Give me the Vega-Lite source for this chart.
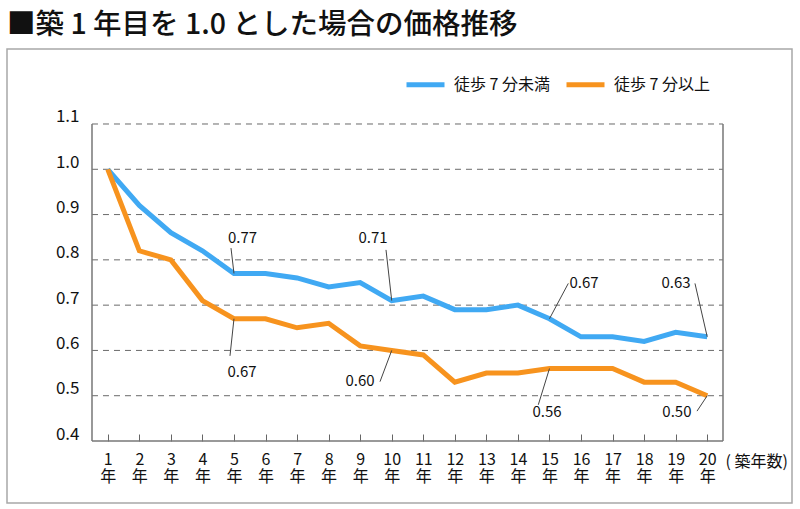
{
  "$schema": "https://vega.github.io/schema/vega-lite/v6.json",
  "autosize": "none",
  "width": 785,
  "height": 454,
  "padding": {"left": 7, "top": 49, "right": 8, "bottom": 6},
  "background": "white",
  "config": {
    "view": {"stroke": "#a8a8a8", "strokeWidth": 1.5},
    "font": "Noto Sans CJK JP"
  },
  "title": {
    "text": "■築 1 年目を 1.0 とした場合の価格推移",
    "anchor": "start",
    "frame": "group",
    "font": "Noto Sans CJK JP",
    "fontSize": 28.5,
    "fontWeight": 500,
    "color": "#111111",
    "baseline": "bottom",
    "offset": 11,
    "dy": 30
  },
  "datasets": {
    "series": [
      {"year": 1, "value": 1.0, "s": "徒歩 7 分未満"},
      {"year": 2, "value": 0.92, "s": "徒歩 7 分未満"},
      {"year": 3, "value": 0.86, "s": "徒歩 7 分未満"},
      {"year": 4, "value": 0.82, "s": "徒歩 7 分未満"},
      {"year": 5, "value": 0.77, "s": "徒歩 7 分未満"},
      {"year": 6, "value": 0.77, "s": "徒歩 7 分未満"},
      {"year": 7, "value": 0.76, "s": "徒歩 7 分未満"},
      {"year": 8, "value": 0.74, "s": "徒歩 7 分未満"},
      {"year": 9, "value": 0.75, "s": "徒歩 7 分未満"},
      {"year": 10, "value": 0.71, "s": "徒歩 7 分未満"},
      {"year": 11, "value": 0.72, "s": "徒歩 7 分未満"},
      {"year": 12, "value": 0.69, "s": "徒歩 7 分未満"},
      {"year": 13, "value": 0.69, "s": "徒歩 7 分未満"},
      {"year": 14, "value": 0.70, "s": "徒歩 7 分未満"},
      {"year": 15, "value": 0.67, "s": "徒歩 7 分未満"},
      {"year": 16, "value": 0.63, "s": "徒歩 7 分未満"},
      {"year": 17, "value": 0.63, "s": "徒歩 7 分未満"},
      {"year": 18, "value": 0.62, "s": "徒歩 7 分未満"},
      {"year": 19, "value": 0.64, "s": "徒歩 7 分未満"},
      {"year": 20, "value": 0.63, "s": "徒歩 7 分未満"},
      {"year": 1, "value": 1.0, "s": "徒歩 7 分以上"},
      {"year": 2, "value": 0.82, "s": "徒歩 7 分以上"},
      {"year": 3, "value": 0.80, "s": "徒歩 7 分以上"},
      {"year": 4, "value": 0.71, "s": "徒歩 7 分以上"},
      {"year": 5, "value": 0.67, "s": "徒歩 7 分以上"},
      {"year": 6, "value": 0.67, "s": "徒歩 7 分以上"},
      {"year": 7, "value": 0.65, "s": "徒歩 7 分以上"},
      {"year": 8, "value": 0.66, "s": "徒歩 7 分以上"},
      {"year": 9, "value": 0.61, "s": "徒歩 7 分以上"},
      {"year": 10, "value": 0.60, "s": "徒歩 7 分以上"},
      {"year": 11, "value": 0.59, "s": "徒歩 7 分以上"},
      {"year": 12, "value": 0.53, "s": "徒歩 7 分以上"},
      {"year": 13, "value": 0.55, "s": "徒歩 7 分以上"},
      {"year": 14, "value": 0.55, "s": "徒歩 7 分以上"},
      {"year": 15, "value": 0.56, "s": "徒歩 7 分以上"},
      {"year": 16, "value": 0.56, "s": "徒歩 7 分以上"},
      {"year": 17, "value": 0.56, "s": "徒歩 7 分以上"},
      {"year": 18, "value": 0.53, "s": "徒歩 7 分以上"},
      {"year": 19, "value": 0.53, "s": "徒歩 7 分以上"},
      {"year": 20, "value": 0.50, "s": "徒歩 7 分以上"}
    ],
    "grid": [
      {"v": 0.5}, {"v": 0.6}, {"v": 0.7}, {"v": 0.8}, {"v": 0.9}, {"v": 1.0}, {"v": 1.1}
    ],
    "notes": [
      {"year": 5, "value": 0.77, "lx": 4.906, "ly": 0.826, "tx": 5.27, "ty": 0.849, "label": "0.77"},
      {"year": 5, "value": 0.67, "lx": 4.874, "ly": 0.588, "tx": 5.254, "ty": 0.552, "label": "0.67"},
      {"year": 10, "value": 0.71, "lx": 9.819, "ly": 0.822, "tx": 9.406, "ty": 0.848, "label": "0.71"},
      {"year": 10, "value": 0.60, "lx": 9.628, "ly": 0.531, "tx": 8.994, "ty": 0.5325, "label": "0.60"},
      {"year": 15, "value": 0.67, "lx": 15.597, "ly": 0.748, "tx": 16.094, "ty": 0.749, "label": "0.67"},
      {"year": 15, "value": 0.56, "lx": 14.646, "ly": 0.48, "tx": 14.922, "ty": 0.464, "label": "0.56"},
      {"year": 20, "value": 0.63, "lx": 19.612, "ly": 0.748, "tx": 19.01, "ty": 0.749, "label": "0.63"},
      {"year": 20, "value": 0.50, "lx": 19.676, "ly": 0.466, "tx": 19.04, "ty": 0.464, "label": "0.50"}
    ]
  },
  "layer": [
    {
      "data": {"name": "grid"},
      "mark": {"type": "rule", "color": "#6a6a6a", "strokeWidth": 1, "strokeDash": [6, 5]},
      "encoding": {
        "y": {"field": "v", "type": "quantitative"},
        "x": {"datum": 0.5, "type": "quantitative"},
        "x2": {"datum": 20.5}
      }
    },
    {
      "data": {"values": [{}]},
      "mark": {"type": "rule", "color": "#777777", "strokeWidth": 1.5},
      "encoding": {
        "x": {"datum": 0.5, "type": "quantitative"},
        "y": {"datum": 0.4, "type": "quantitative"},
        "y2": {"datum": 1.1}
      }
    },
    {
      "data": {"values": [{}]},
      "mark": {"type": "rule", "color": "#777777", "strokeWidth": 1.5},
      "encoding": {
        "x": {"datum": 20.5, "type": "quantitative"},
        "y": {"datum": 0.4, "type": "quantitative"},
        "y2": {"datum": 1.1}
      }
    },
    {
      "data": {"values": [{}]},
      "mark": {"type": "rule", "color": "#777777", "strokeWidth": 1.5},
      "encoding": {
        "x": {"datum": 0.5, "type": "quantitative"},
        "x2": {"datum": 20.5},
        "y": {"datum": 0.4, "type": "quantitative"}
      }
    },
    {
      "data": {"name": "series"},
      "mark": {"type": "line", "strokeWidth": 5, "strokeJoin": "miter"},
      "encoding": {
        "x": {
          "field": "year",
          "type": "quantitative",
          "scale": {"domain": [-2.194, 22.687], "nice": false, "zero": false},
          "axis": {
            "orient": "bottom",
            "offset": -62,
            "values": [1, 2, 3, 4, 5, 6, 7, 8, 9, 10, 11, 12, 13, 14, 15, 16, 17, 18, 19, 20],
            "domain": false,
            "grid": false,
            "ticks": true,
            "tickSize": -7,
            "tickColor": "#666666",
            "tickWidth": 1,
            "labelExpr": "[datum.label, '年']",
            "labelFont": "Noto Sans CJK JP",
            "labelFontSize": 16,
            "labelLineHeight": 17,
            "labelColor": "#111111",
            "labelPadding": 17,
            "labelFlush": false,
            "labelOverlap": false,
            "title": "( 築年数)",
            "titleX": 718,
            "titleY": 20,
            "titleAlign": "left",
            "titleBaseline": "middle",
            "titleFont": "Noto Sans CJK JP",
            "titleFontSize": 16,
            "titleFontWeight": "normal",
            "titleColor": "#111111"
          }
        },
        "y": {
          "field": "value",
          "type": "quantitative",
          "scale": {"domain": [0.2631, 1.2656], "nice": false, "zero": false},
          "axis": {
            "orient": "left",
            "offset": -85,
            "values": [0.4, 0.5, 0.6, 0.7, 0.8, 0.9, 1.0, 1.1],
            "format": ".1f",
            "domain": false,
            "grid": false,
            "ticks": false,
            "labelPadding": 13,
            "labelFont": "Noto Sans CJK JP",
            "labelFontSize": 17,
            "labelColor": "#111111",
            "labelBaseline": "alphabetic",
            "labelOffset": -2,
            "title": null
          }
        },
        "color": {
          "field": "s",
          "type": "nominal",
          "scale": {"domain": ["徒歩 7 分未満", "徒歩 7 分以上"], "range": ["#40a9f3", "#f7931e"]},
          "legend": {
            "orient": "none",
            "legendX": 397,
            "legendY": 14,
            "direction": "horizontal",
            "title": null,
            "symbolType": "stroke",
            "symbolSize": 1444,
            "symbolStrokeWidth": 5,
            "labelFont": "Noto Sans CJK JP",
            "labelFontSize": 16,
            "labelColor": "#111111",
            "labelOffset": 7,
            "columnPadding": 5,
            "padding": 0,
            "labelLimit": 300
          }
        }
      }
    },
    {
      "data": {"name": "notes"},
      "mark": {"type": "rule", "color": "#444444", "strokeWidth": 1},
      "encoding": {
        "x": {"field": "year", "type": "quantitative"},
        "y": {"field": "value", "type": "quantitative"},
        "x2": {"field": "lx"},
        "y2": {"field": "ly"}
      }
    },
    {
      "data": {"name": "notes"},
      "mark": {"type": "text", "font": "Noto Sans CJK JP", "fontSize": 15, "color": "#111111", "align": "center", "baseline": "middle"},
      "encoding": {
        "x": {"field": "tx", "type": "quantitative"},
        "y": {"field": "ty", "type": "quantitative"},
        "text": {"field": "label"}
      }
    }
  ]
}
